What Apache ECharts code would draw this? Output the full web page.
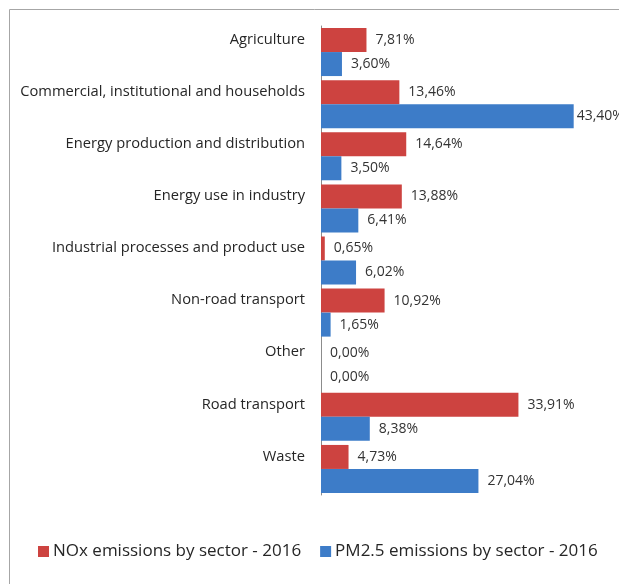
<!DOCTYPE html>
<html>
<head>
<meta charset="utf-8">
<script src="https://cdn.jsdelivr.net/npm/echarts@6/dist/echarts.min.js"></script>
<style>html,body{margin:0;padding:0;background:#fff;}#c{width:619px;height:584px;}</style>
</head>
<body>
<div id="c"></div>
<script>
const categories = ["Agriculture", "Commercial, institutional and households", "Energy production and distribution", "Energy use in industry", "Industrial processes and product use", "Non-road transport", "Other", "Road transport", "Waste"];
const noxValues = [7.81, 13.46, 14.64, 13.88, 0.65, 10.92, 0.00, 33.91, 4.73];
const pm25Values = [3.60, 43.40, 3.50, 6.41, 6.02, 1.65, 0.00, 8.38, 27.04];
const seriesNames = ["NOx emissions by sector - 2016", "PM2.5 emissions by sector - 2016"];

const FONT = "Open Sans";
const chart = echarts.init(document.getElementById('c'));
const fmt = p => p.value.toFixed(2).replace('.', ',') + '%';
// labels near the right edge sit closer to their bar (as in the original)
const withLabelDist = arr => arr.map(v => v > 40 ? {value: v, label: {distance: 3}} : v);
chart.setOption({
  animation: false,
  textStyle: {fontFamily: FONT},
  graphic: [{type: 'rect', shape: {x: 9.5, y: 9.5, width: 700, height: 700}, style: {fill: 'none', stroke: '#a6a6a6', lineWidth: 1}, silent: true}],
  grid: {left: 321, top: 26, right: 36, bottom: 89, containLabel: false},
  xAxis: {type: 'value', min: 0, max: 45, show: false},
  yAxis: {
    type: 'category', data: categories, inverse: true,
    axisLine: {lineStyle: {color: '#8c8c8c'}},
    axisTick: {length: 5, lineStyle: {color: '#8c8c8c'}},
    axisLabel: {color: '#262626', fontSize: 14.7, fontFamily: FONT, margin: 16, verticalAlign: 'bottom', lineHeight: 25}
  },
  legend: {
    top: 538, left: 33, itemWidth: 11, itemHeight: 11, itemGap: 19, icon: 'rect',
    textStyle: {fontSize: 17, color: '#262626', fontFamily: FONT, padding: [0, 0, 0, -1]},
    data: seriesNames
  },
  series: [
    {name: seriesNames[0], type: 'bar', data: withLabelDist(noxValues), barWidth: 24, barGap: '0%', itemStyle: {color: '#cd4340'},
     label: {show: true, position: 'right', distance: 9, formatter: fmt, color: '#333', fontSize: 14, fontFamily: FONT}},
    {name: seriesNames[1], type: 'bar', data: withLabelDist(pm25Values), barWidth: 24, itemStyle: {color: '#3d7cc8'},
     label: {show: true, position: 'right', distance: 9, formatter: fmt, color: '#333', fontSize: 14, fontFamily: FONT}}
  ]
});
</script>
</body>
</html>
